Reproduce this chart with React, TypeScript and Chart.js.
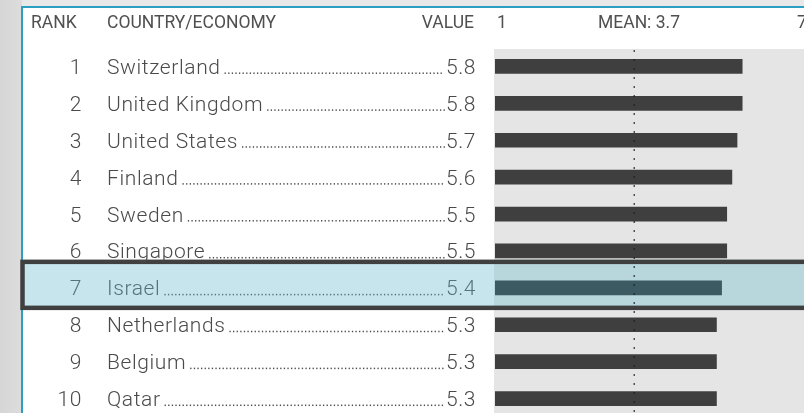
import React, { useEffect, useRef } from "react";
import { Chart, registerables } from "chart.js";

Chart.register(...registerables);

const ranks = ["1", "2", "3", "4", "5", "6", "7", "8", "9", "10"];
const countries = [
  "Switzerland",
  "United Kingdom",
  "United States",
  "Finland",
  "Sweden",
  "Singapore",
  "Israel",
  "Netherlands",
  "Belgium",
  "Qatar",
];
const values = [5.8, 5.8, 5.7, 5.6, 5.5, 5.5, 5.4, 5.3, 5.3, 5.3];
const highlightCountry = "Israel";
const scaleMin = 1;
const scaleMax = 7;
const meanValue = 3.7;
const headers = { rank: "RANK", country: "COUNTRY/ECONOMY", value: "VALUE", min: "1", mean: "MEAN: 3.7", max: "7" };

const W = 804;
const H = 413;
const CH = 420;

const TEXT = "#4a4a4a";
const ROW_FONT = "300 21px Roboto, 'Liberation Sans', sans-serif";
const HEAD_FONT = "400 17.5px Roboto, 'Liberation Sans', sans-serif";

const tablePlugin = {
  id: "tablePlugin",
  beforeDraw(chart: any) {
    const ctx = chart.ctx as CanvasRenderingContext2D;
    const ca = chart.chartArea;
    const y = chart.scales.y;
    ctx.save();
    const g = ctx.createLinearGradient(0, 0, 40, 0);
    g.addColorStop(0, "#d6d6d6");
    g.addColorStop(1, "#e2e2e2");
    ctx.fillStyle = g;
    ctx.fillRect(0, 0, W, CH);
    ctx.fillStyle = "#e8e8e8";
    ctx.fillRect(22, 0, W, 7);
    ctx.fillStyle = "#ffffff";
    ctx.fillRect(22, 8, W, CH);
    ctx.fillStyle = "#2b9fc2";
    ctx.fillRect(21, 6, W, 2);
    ctx.fillRect(21, 6, 2, CH);
    ctx.fillStyle = "#e5e5e5";
    ctx.fillRect(ca.left - 1, ca.top + 1, ca.right - ca.left + 2, CH);
    const hi = countries.indexOf(highlightCountry);
    if (hi >= 0) {
      const cy = y.getPixelForValue(hi);
      const top = cy - 28;
      const bot = cy + 22;
      ctx.fillStyle = "#c7e5ec";
      ctx.fillRect(22, top, W, bot - top);
      ctx.fillStyle = "#b8d7dd";
      ctx.fillRect(ca.left - 1, top, W, bot - top);
      ctx.strokeStyle = "#404040";
      ctx.lineWidth = 4.5;
      ctx.strokeRect(22.5, top + 2, W, bot - top - 4);
    }
    ctx.restore();
  },
  afterDatasetsDraw(chart: any) {
    const ctx = chart.ctx as CanvasRenderingContext2D;
    const ca = chart.chartArea;
    const x = chart.scales.x;
    const mx = Math.round(x.getPixelForValue(meanValue));
    ctx.save();
    ctx.fillStyle = "rgba(30,30,30,0.75)";
    for (let yy = ca.top + 2; yy < CH; yy += 9) {
      ctx.fillRect(mx - 0.5, yy, 1.5, 2);
    }
    ctx.restore();
  },
  afterDraw(chart: any) {
    const ctx = chart.ctx as CanvasRenderingContext2D;
    const y = chart.scales.y;
    const x = chart.scales.x;
    ctx.save();
    ctx.font = HEAD_FONT;
    ctx.fillStyle = "#505050";
    ctx.textBaseline = "alphabetic";
    ctx.textAlign = "left";
    ctx.fillText(headers.rank, 31, 28);
    ctx.fillText(headers.country, 107, 28);
    ctx.textAlign = "right";
    ctx.fillText(headers.value, 474, 28);
    ctx.textAlign = "left";
    ctx.fillText(headers.min, x.getPixelForValue(scaleMin) + 2, 28);
    ctx.fillText(headers.mean, 598, 28);
    ctx.fillText(headers.max, 797, 28);

    ctx.font = ROW_FONT;
    (ctx as any).letterSpacing = "0.6px";
    countries.forEach((c, i) => {
      const cy = y.getPixelForValue(i);
      const base = cy + 7.5;
      const isHi = c === highlightCountry;
      ctx.fillStyle = isHi ? "#56727a" : TEXT;
      ctx.textAlign = "right";
      ctx.fillText(ranks[i], 82, base);
      ctx.textAlign = "left";
      ctx.fillText(c, 107, base);
      const nameEnd = 107 + ctx.measureText(c).width + 2;
      const valText = values[i].toFixed(1);
      ctx.textAlign = "right";
      ctx.fillText(valText, 476, base);
      const valStart = 476 - ctx.measureText(valText).width - 2;
      for (let dx = nameEnd + 2; dx < valStart; dx += 3.6) {
        ctx.fillRect(dx, base - 1.5, 1.3, 1.5);
      }
    });
    ctx.restore();
  },
};

export default function App() {
  const ref = useRef<HTMLCanvasElement | null>(null);
  useEffect(() => {
    document.body.style.margin = "0";
    if (!ref.current) return;
    const chart = new Chart(ref.current, {
      type: "bar",
      data: {
        labels: countries,
        datasets: [
          {
            data: values,
            backgroundColor: countries.map((c) => (c === highlightCountry ? "#3b5a61" : "#3f3f3f")),
            barThickness: 14,
            borderWidth: 0,
          },
        ],
      },
      options: {
        indexAxis: "y",
        responsive: false,
        animation: false,
        devicePixelRatio: 1,
        layout: { padding: { left: 495, right: 0, top: 48, bottom: 3 } },
        scales: {
          x: { min: scaleMin, max: scaleMax, display: false },
          y: { display: false },
        },
        plugins: {
          legend: { display: false },
          tooltip: { enabled: false },
        },
      },
      plugins: [tablePlugin],
    });
    return () => chart.destroy();
  }, []);
  return (
    <div style={{ position: "fixed", left: 0, top: 0, width: W, height: H, overflow: "hidden" }}>
      <canvas ref={ref} width={W} height={CH} style={{ display: "block", width: W, height: CH }} />
    </div>
  );
}
